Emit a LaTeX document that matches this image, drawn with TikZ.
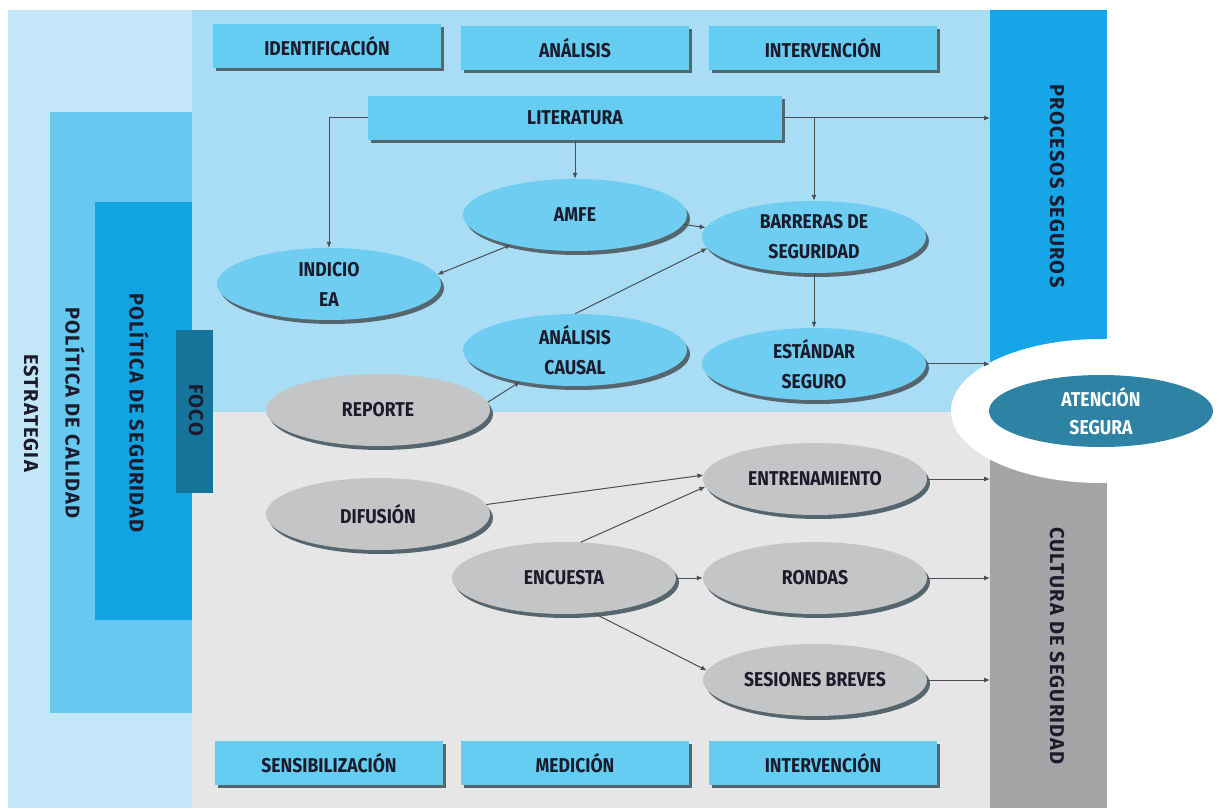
\documentclass[tikz,border=0pt]{standalone}
\usepackage{fontspec}
\newfontfamily\lbl{Fira Sans}[FakeStretch=0.88]
\newfontfamily\vlb{Fira Sans}[LetterSpace=6]
\usetikzlibrary{shapes.geometric,shadows,arrows.meta}
\definecolor{strip}{HTML}{C4E6F9}
\definecolor{topbg}{HTML}{A9DDF6}
\definecolor{botbg}{HTML}{E6E6E6}
\definecolor{calid}{HTML}{66C9F0}
\definecolor{segur}{HTML}{12A3E3}
\definecolor{foco}{HTML}{16739A}
\definecolor{boxc}{HTML}{66CDF2}
\definecolor{blueel}{HTML}{6FCDF1}
\definecolor{grayel}{HTML}{C3C5C7}
\definecolor{procc}{HTML}{16A5E6}
\definecolor{culc}{HTML}{A3A4A6}
\definecolor{aten}{HTML}{2E82A3}
\definecolor{shd}{HTML}{56666F}
\definecolor{txt}{HTML}{1B1B2B}
\definecolor{arrc}{HTML}{4A4F55}
\tikzset{
  lbl/.style={font=\lbl\bfseries\fontsize{20}{30}\selectfont, text=txt, align=center},
  vlbl/.style={font=\vlb\bfseries\fontsize{20}{22}\selectfont, text=txt, rotate=-90},
  panel/.style={rectangle, inner sep=0pt, outer sep=0pt, anchor=north west},
  hbox/.style={lbl, rectangle, fill=boxc, minimum width=228pt, minimum height=44pt,
    drop shadow={shadow xshift=3pt, shadow yshift=-3pt, fill=shd, opacity=1}},
  bel/.style={lbl, ellipse, inner sep=0pt, fill=blueel, minimum width=224pt, minimum height=72pt,
    drop shadow={shadow xshift=3pt, shadow yshift=-4pt, fill=shd, opacity=1}},
  gel/.style={bel, fill=grayel},
  arr/.style={draw=arrc, line width=1pt, -{Latex[length=6pt,width=5pt]}},
  darr/.style={arr, {Latex[length=6pt,width=5pt]}-{Latex[length=6pt,width=5pt]}},
}
\begin{document}
\begin{tikzpicture}[x=1pt,y=-1pt]
\useasboundingbox (0,0) rectangle (1219,810);
\fill[white] (0,0) rectangle (1219,810);
% backgrounds
\node[panel, fill=strip, minimum width=184pt, minimum height=798pt] (estr) at (8,10) {};
\node[panel, fill=topbg, minimum width=798pt, minimum height=402pt] (topa) at (192,10) {};
\node[panel, fill=botbg, minimum width=798pt, minimum height=396pt] (bota) at (192,412) {};
\node[panel, fill=calid, minimum width=142pt, minimum height=601pt] (cal) at (50,112) {};
\node[panel, fill=segur, minimum width=97pt, minimum height=418pt] (seg) at (95,202) {};
\node[panel, fill=foco, minimum width=37pt, minimum height=163pt] (foc) at (176,330) {};
\node[panel, fill=procc, minimum width=117pt, minimum height=400pt] (proc) at (990,10) {};
\node[panel, fill=culc, minimum width=117pt, minimum height=398pt] (cul) at (990,410) {};
\node[ellipse, fill=white, inner sep=0pt, minimum width=300pt, minimum height=144pt] (wh) at (1101,411) {};
\node[ellipse, fill=aten, inner sep=0pt, minimum width=224pt, minimum height=72pt,
  font=\lbl\bfseries\fontsize{20}{28}\selectfont, text=white, align=center] (at) at (1101,411) {ATENCIÓN\\SEGURA};
% vertical labels
\node[vlbl] (estrl) at (31,413) {ESTRATEGIA};
\node[vlbl] (call) at (75,413) {POLÍTICA DE CALIDAD};
\node[vlbl] (segl) at (139,413) {POLÍTICA DE SEGURIDAD};
\node[vlbl] (focl) at (196,410) {FOCO};
\node[vlbl] (procl) at (1057,186) {PROCESOS SEGUROS};
\node[vlbl] (cull) at (1057,646) {CULTURA DE SEGURIDAD};
% header boxes
\node[hbox] (h1) at (327,46) {IDENTIFICACIÓN};
\node[hbox] (h2) at (575,48) {ANÁLISIS};
\node[hbox] (h3) at (823,48) {INTERVENCIÓN};
\node[hbox, minimum width=414pt] (lit) at (575,118) {LITERATURA};
\node[hbox] (b1) at (329,763) {SENSIBILIZACIÓN};
\node[hbox] (b2) at (575,763) {MEDICIÓN};
\node[hbox] (b3) at (823,763) {INTERVENCIÓN};
% ellipses
\node[bel] (amfe) at (575,215) {AMFE};
\node[bel] (ind) at (329,284) {INDICIO\\EA};
\node[bel] (bar) at (814,237) {BARRERAS DE\\SEGURIDAD};
\node[bel] (ana) at (575,350) {ANÁLISIS\\CAUSAL};
\node[bel] (est) at (814,364) {ESTÁNDAR\\SEGURO};
\node[gel] (rep) at (378,410) {REPORTE};
\node[gel] (dif) at (378,514) {DIFUSIÓN};
\node[gel] (enc) at (564,578) {ENCUESTA};
\node[gel] (ent) at (815,479) {ENTRENAMIENTO};
\node[gel] (ron) at (815,578) {RONDAS};
\node[gel] (ses) at (815,680) {SESIONES BREVES};
% connectors
\draw[arr] (lit.west) -| (ind.north);
\draw[arr] (lit.south) -- (amfe.north);
\draw[arr] (lit.east) -- (lit.east -| proc.west);
\draw[arr] (lit.east -| bar.north) -- (bar.north);
\draw[darr] (ind.5) -- (amfe.205);
\draw[arr] (amfe.-5) -- (bar.175);
\draw[arr] (ana.north) -- (bar.186);
\draw[arr] (bar.south) -- (est.north);
\draw[arr] (est.east) -- (est.east -| proc.west);
\draw[arr] (rep.4) -- (ana.210);
\draw[arr] (dif.5) -- (ent.178);
\draw[arr] (enc.65) -- (ent.184);
\draw[arr] (enc.east) -- (ron.west);
\draw[arr] (enc.-50) -- (ses.175);
\draw[arr] (ent.east) -- (ent.east -| cul.west);
\draw[arr] (ron.east) -- (ron.east -| cul.west);
\draw[arr] (ses.east) -- (ses.east -| cul.west);
\end{tikzpicture}
\end{document}
